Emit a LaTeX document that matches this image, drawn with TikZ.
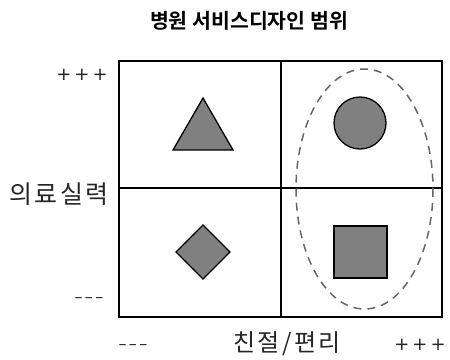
\documentclass[tikz,border=0pt]{standalone}
\usepackage{fontspec}
\setmainfont{Noto Sans CJK KR}[BoldFont={Noto Sans CJK KR Bold}]
\newfontfamily\spacedfont{Noto Sans CJK KR}[LetterSpace=10]
\newfontfamily\signfont{DejaVu Sans}
\begin{document}
\begin{tikzpicture}[x=1pt,y=-1pt,
  frame/.style={draw=black,line width=1.6pt},
  shapefill/.style={draw=black,line width=1.3pt,fill=black!50},
  lab/.style={inner sep=0pt,text=black!85},
  sign/.style={inner sep=0pt,text=black!85,font=\signfont\fontsize{16}{16}\selectfont},
  plus/.style={sign,font=\signfont\fontsize{18}{18}\selectfont}]
\useasboundingbox (0,0) rectangle (450,359);
\node[inner sep=0pt,font=\bfseries\fontsize{20.5}{20.5}\selectfont] (title) at (249,21) {병원 서비스디자인 범위};
\draw[frame] (119,61) rectangle (442,317);
\coordinate (vt) at (281,61); \coordinate (vb) at (281,317);
\coordinate (hl) at (119,188); \coordinate (hr) at (442,188);
\draw[frame] (vt) -- (vb);
\draw[frame] (hl) -- (hr);
\draw[shapefill] (203,98) -- (233,150) -- (173,150) -- cycle;
\draw[shapefill] (203,225) -- (230,252) -- (203,279) -- (176,252) -- cycle;
\draw[shapefill] (360,123) circle (26);
\draw[shapefill] (334,226) rectangle (387,278);
\draw[black!60,line width=1.5pt,dash pattern=on 8pt off 6pt] (364.5,189) ellipse (68.5 and 120);
\node[lab,font=\spacedfont\fontsize{25}{25}\selectfont] (yl) at (59,194) {의료실력};
\node[lab,font=\spacedfont\fontsize{24}{24}\selectfont] (xl) at (287,344) {친절/편리};
\node[plus] (yp) at (82,75) {+\hspace{3pt}+\hspace{3pt}+};
\node[sign] (ym) at (89,300) {–\hspace{2.5pt}–\hspace{2.5pt}–};
\node[sign] (xm) at (133,347) {–\hspace{2.5pt}–\hspace{2.5pt}–};
\node[plus] (xp) at (420,345) {+\hspace{3pt}+\hspace{3pt}+};
\end{tikzpicture}
\end{document}
